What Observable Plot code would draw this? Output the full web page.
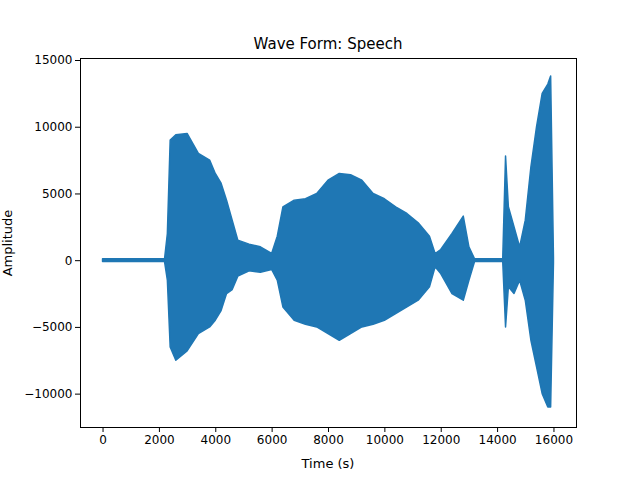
<!DOCTYPE html>
<html><head>
<script src="https://cdn.jsdelivr.net/npm/d3@7"></script>
<script src="https://cdn.jsdelivr.net/npm/@observablehq/plot@0.6"></script>
<style>body{margin:0;background:#fff}</style>
</head><body><div id="c"></div>
<script>
const samples = [0,2200,2300,2400,2600,3000,3400,3800,4000,4200,4400,4600,4800,5200,5600,6000,6200,6400,6800,7200,7600,8000,8400,8800,9200,9600,10000,10400,10800,11200,11600,11800,12000,12400,12800,13000,13200,14200,14300,14400,14600,14800,15000,15200,15400,15600,15800,15900,16000];
const upper = [100,100,2000,9000,9400,9500,8000,7500,6500,5800,4500,3000,1500,1200,1000,500,1800,4000,4500,4600,5000,6000,6500,6400,6000,5000,4600,4000,3500,2800,1800,500,800,2000,3300,1000,100,100,7800,4000,2500,1000,3000,7000,10000,12500,13200,13800,200];
const lower = [-100,-100,-1500,-6500,-7500,-6800,-5500,-5000,-4500,-3800,-2500,-2200,-1200,-800,-900,-700,-1500,-3500,-4500,-4800,-5000,-5500,-6000,-5500,-5000,-4800,-4500,-4000,-3500,-3000,-2000,-500,-1000,-2500,-3000,-1500,-100,-100,-5000,-2000,-2500,-1500,-3000,-6000,-8000,-10000,-11000,-11000,-200];
const xTicks = [0,2000,4000,6000,8000,10000,12000,14000,16000];
const yTicks = [-10000,-5000,0,5000,10000,15000];
const data = samples.map((s,i)=>({s,hi:upper[i],lo:lower[i]}));
const fmtY = d=>d<0?"\u2212"+(-d):String(d);
const chart = Plot.plot({
  width:640,height:480,marginLeft:80,marginRight:64,marginTop:58,marginBottom:53,
  style:{fontFamily:"DejaVu Sans",fontSize:"12px",color:"#000",background:"#fff"},
  x:{domain:[-800,16800],ticks:xTicks,tickFormat:d=>String(d),label:null},
  y:{domain:[-12500,15150],ticks:yTicks,tickFormat:fmtY,label:null},
  marks:[
    Plot.areaY(data,{x:"s",y1:"lo",y2:"hi",fill:"#1f77b4",stroke:"#1f77b4",strokeWidth:1.5}),
    Plot.frame({stroke:"#000"}),
    Plot.axisX({ticks:xTicks,tickSize:5,tickPadding:3,tickFormat:d=>String(d),fontSize:12}),
    Plot.axisY({ticks:yTicks,tickSize:5,tickPadding:3,tickFormat:fmtY,fontSize:12})
  ]
});
const svg = d3.select(chart);
svg.append("text").attr("x",328).attr("y",49).attr("text-anchor","middle").attr("font-size","15px").attr("font-family","DejaVu Sans").text("Wave Form: Speech");
svg.append("text").attr("x",328).attr("y",468).attr("text-anchor","middle").attr("font-size","13px").attr("font-family","DejaVu Sans").text("Time (s)");
svg.append("text").attr("transform","translate(12,243) rotate(-90)").attr("text-anchor","middle").attr("font-size","13px").attr("font-family","DejaVu Sans").text("Amplitude");
document.getElementById("c").appendChild(chart);
</script></body></html>
